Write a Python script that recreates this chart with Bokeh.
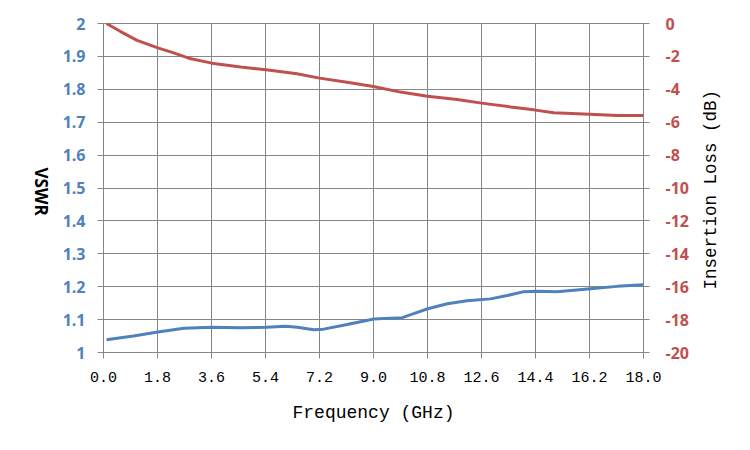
from math import pi

from bokeh.plotting import figure
from bokeh.models import LinearAxis, Range1d, FixedTicker
from bokeh.embed import file_html
from bokeh.resources import INLINE

# ----------------------------
# Data
# ----------------------------
vswr_freq = [0.1, 1.0, 1.81, 2.68, 3.61, 4.57, 5.42, 6.07, 6.46, 7.01, 7.34, 8.12,
             9.01, 9.96, 10.34, 10.81, 11.46, 12.12, 12.9, 13.46, 14.01, 14.46,
             15.12, 16.23, 17.12, 18.0]
vswr = [1.039, 1.050, 1.062, 1.074, 1.077, 1.075, 1.077, 1.080, 1.077, 1.069, 1.071,
        1.085, 1.102, 1.106, 1.118, 1.133, 1.148, 1.157, 1.163, 1.173, 1.185, 1.186,
        1.185, 1.194, 1.201, 1.206]

il_freq = [0.1, 0.57, 1.12, 1.81, 2.34, 2.84, 3.61, 4.57, 5.42, 6.45, 7.2, 8.12,
           9.0, 9.9, 10.8, 11.79, 12.6, 13.57, 14.34, 15.01, 16.2, 17.12, 18.0]
insertion_loss = [0.0, -0.49, -1.03, -1.48, -1.79, -2.11, -2.41, -2.65, -2.81, -3.06,
                  -3.32, -3.57, -3.83, -4.17, -4.42, -4.62, -4.84, -5.07, -5.25, -5.43,
                  -5.51, -5.59, -5.59]

freq_ticks = [0.0, 1.8, 3.6, 5.4, 7.2, 9.0, 10.8, 12.6, 14.4, 16.2, 18.0]
freq_labels = ["0.0", "1.8", "3.6", "5.4", "7.2", "9.0", "10.8", "12.6", "14.4", "16.2", "18.0"]
vswr_ticks = [1.0, 1.1, 1.2, 1.3, 1.4, 1.5, 1.6, 1.7, 1.8, 1.9, 2.0]
vswr_labels = ["1", "1.1", "1.2", "1.3", "1.4", "1.5", "1.6", "1.7", "1.8", "1.9", "2"]
il_ticks = [0, -2, -4, -6, -8, -10, -12, -14, -16, -18, -20]
il_labels = ["0", "-2", "-4", "-6", "-8", "-10", "-12", "-14", "-16", "-18", "-20"]

BLUE = "#4F81BD"
RED = "#C0504D"
GRID = "#868686"
SANS = "Open Sans"
MONO = "Liberation Mono"
NBSP = "\u00a0"

# ----------------------------
# Figure
# ----------------------------
p = figure(width=742, height=442, x_range=Range1d(0, 18), y_range=Range1d(1, 2),
           output_backend="svg", toolbar_location=None,
           min_border_left=103, min_border_right=99, min_border_top=23, min_border_bottom=90)
p.outline_line_color = GRID
p.background_fill_color = "white"
p.border_fill_color = "white"

p.extra_y_ranges = {"il": Range1d(-20, 0)}

# grid
p.xgrid.ticker = FixedTicker(ticks=freq_ticks)
p.ygrid.ticker = FixedTicker(ticks=vswr_ticks)
for g in (p.xgrid, p.ygrid):
    g.grid_line_color = GRID
    g.grid_line_width = 1

# x axis
xa = p.xaxis[0]
xa.ticker = FixedTicker(ticks=freq_ticks)
xa.major_label_overrides = dict(zip(freq_ticks, freq_labels))
xa.axis_label = "Frequency (GHz)"
xa.axis_label_text_font = MONO
xa.axis_label_text_font_size = "18px"
xa.axis_label_text_font_style = "normal"
xa.axis_label_text_color = "black"
xa.axis_label_standoff = 18
xa.major_label_text_font = MONO
xa.major_label_text_font_size = "15px"
xa.major_label_text_color = "black"
xa.major_label_standoff = 13

# left axis (VSWR)
ya = p.yaxis[0]
ya.ticker = FixedTicker(ticks=vswr_ticks)
ya.major_label_overrides = dict(zip(vswr_ticks, vswr_labels))
ya.major_label_text_font = SANS
ya.major_label_text_font_style = "bold"
ya.major_label_text_font_size = "16px"
ya.major_label_text_color = BLUE
ya.major_label_standoff = 12

# right axis (insertion loss)
ra = LinearAxis(y_range_name="il", ticker=FixedTicker(ticks=il_ticks))
ra.major_label_overrides = dict(zip(il_ticks, il_labels))
ra.major_label_text_font = SANS
ra.major_label_text_font_style = "bold"
ra.major_label_text_font_size = "16px"
ra.major_label_text_color = RED
ra.major_label_standoff = 16
p.add_layout(ra, "right")

for ax in (xa, ya, ra):
    ax.axis_line_color = GRID
    ax.major_tick_line_color = GRID
    ax.major_tick_out = 6
    ax.major_tick_in = 0
    ax.minor_tick_line_color = None

# title-only axes. A rotated title is pinned by one end to the bottom of the
# axis ("start"), so non-breaking spaces lift the visible words into place.
vswr_title = LinearAxis(ticker=FixedTicker(ticks=[]),
                        axis_label="VSWR" + NBSP * 31, axis_label_orientation=-pi / 2,
                        axis_label_align="start",
                        axis_label_text_font=SANS, axis_label_text_font_style="bold",
                        axis_label_text_font_size="17px", axis_label_text_color="black",
                        axis_label_standoff=18, axis_line_color=None,
                        major_tick_line_color=None, minor_tick_line_color=None)
p.add_layout(vswr_title, "left")

il_title = LinearAxis(y_range_name="il", ticker=FixedTicker(ticks=[]),
                      axis_label=NBSP * 6 + "Insertion Loss (dB)", axis_label_orientation=pi / 2,
                      axis_label_align="start",
                      axis_label_text_font=MONO, axis_label_text_font_style="normal",
                      axis_label_text_font_size="17.5px", axis_label_text_color="black",
                      axis_label_standoff=19, axis_line_color=None,
                      major_tick_line_color=None, minor_tick_line_color=None)
p.add_layout(il_title, "right")

# ----------------------------
# Series
# ----------------------------
p.line(vswr_freq, vswr, color=BLUE, line_width=3)
p.line(il_freq, insertion_loss, color=RED, line_width=3, y_range_name="il")

open("out.html", "w").write(file_html(p, INLINE))
